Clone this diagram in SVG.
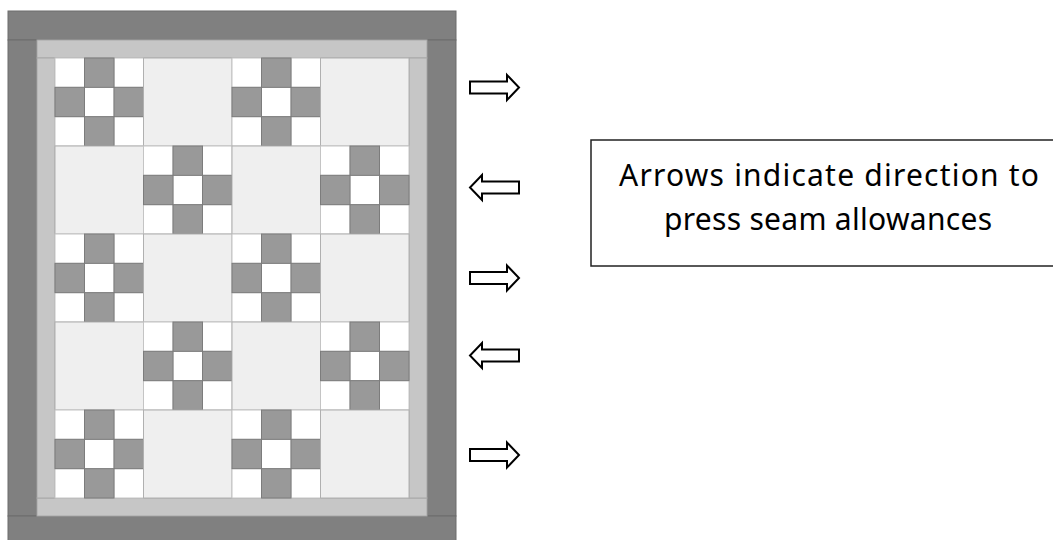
<svg xmlns="http://www.w3.org/2000/svg" xmlns:xlink="http://www.w3.org/1999/xlink" width="1053" height="540" viewBox="0 0 1053 540">
<style>
.dark{fill:#808080;stroke:#6c6c6c;stroke-width:1}
.light{fill:#c6c6c6;stroke:#a8a8a8;stroke-width:1}
.plain{fill:#efefef;stroke:#b0b0b0;stroke-width:1}
.w{fill:#ffffff;stroke:#c4c4c4;stroke-width:1}
.g{fill:#999999;stroke:#7c7c7c;stroke-width:1}
.arrow{fill:#ffffff;stroke:#000000;stroke-width:2;stroke-linejoin:miter}
.lbl{font-family:"Comic Sans MS","Noto Sans","Liberation Sans",sans-serif;font-size:30px;fill:#000000;text-anchor:middle}
</style>
<defs>
<g id="ninepatch">
<rect class="w" x="0" y="0" width="29.5" height="29.33"/>
<rect class="w" x="59" y="0" width="29.5" height="29.33"/>
<rect class="w" x="29.5" y="29.33" width="29.5" height="29.33"/>
<rect class="w" x="0" y="58.67" width="29.5" height="29.33"/>
<rect class="w" x="59" y="58.67" width="29.5" height="29.33"/>
<rect class="g" x="29.5" y="0" width="29.5" height="29.33"/>
<rect class="g" x="0" y="29.33" width="29.5" height="29.33"/>
<rect class="g" x="59" y="29.33" width="29.5" height="29.33"/>
<rect class="g" x="29.5" y="58.67" width="29.5" height="29.33"/>
</g>
<rect id="plainblock" class="plain" x="0" y="0" width="88.5" height="88"/>
<path id="arr" class="arrow" d="M0,-6 H37 V-12.5 L49,0 L37,12.5 V6 H0 Z"/>
</defs>
<rect width="1053" height="540" fill="#ffffff"/>
<g id="borders">
<rect class="dark" x="8" y="11" width="448" height="29"/>
<rect class="dark" x="8" y="40" width="29" height="476"/>
<rect class="dark" x="427" y="40" width="29" height="476"/>
<rect class="dark" x="8" y="516" width="448" height="30"/>
<rect class="light" x="37" y="40" width="390" height="18"/>
<rect class="light" x="37" y="498" width="390" height="18"/>
<rect class="light" x="37" y="58" width="18" height="440"/>
<rect class="light" x="409" y="58" width="18" height="440"/>
</g>
<g id="blocks">
<use xlink:href="#ninepatch" transform="translate(55,58)"/>
<use xlink:href="#plainblock" transform="translate(143.5,58)"/>
<use xlink:href="#ninepatch" transform="translate(232,58)"/>
<use xlink:href="#plainblock" transform="translate(320.5,58)"/>
<use xlink:href="#plainblock" transform="translate(55,146)"/>
<use xlink:href="#ninepatch" transform="translate(143.5,146)"/>
<use xlink:href="#plainblock" transform="translate(232,146)"/>
<use xlink:href="#ninepatch" transform="translate(320.5,146)"/>
<use xlink:href="#ninepatch" transform="translate(55,234)"/>
<use xlink:href="#plainblock" transform="translate(143.5,234)"/>
<use xlink:href="#ninepatch" transform="translate(232,234)"/>
<use xlink:href="#plainblock" transform="translate(320.5,234)"/>
<use xlink:href="#plainblock" transform="translate(55,322)"/>
<use xlink:href="#ninepatch" transform="translate(143.5,322)"/>
<use xlink:href="#plainblock" transform="translate(232,322)"/>
<use xlink:href="#ninepatch" transform="translate(320.5,322)"/>
<use xlink:href="#ninepatch" transform="translate(55,410)"/>
<use xlink:href="#plainblock" transform="translate(143.5,410)"/>
<use xlink:href="#ninepatch" transform="translate(232,410)"/>
<use xlink:href="#plainblock" transform="translate(320.5,410)"/>
</g>
<g id="arrows">
<use xlink:href="#arr" transform="translate(470,87.5)"/>
<use xlink:href="#arr" transform="translate(519,187.5) scale(-1,1)"/>
<use xlink:href="#arr" transform="translate(470,278)"/>
<use xlink:href="#arr" transform="translate(519,355.5) scale(-1,1)"/>
<use xlink:href="#arr" transform="translate(470,455)"/>
</g>
<g id="note">
<rect x="591" y="140" width="475" height="126" fill="#ffffff" stroke="#222222" stroke-width="1.5"/>
<text class="lbl" x="829" y="186" textLength="420" lengthAdjust="spacing">Arrows indicate direction to</text>
<text class="lbl" x="828" y="230" textLength="328" lengthAdjust="spacing">press seam allowances</text>
</g>
</svg>
